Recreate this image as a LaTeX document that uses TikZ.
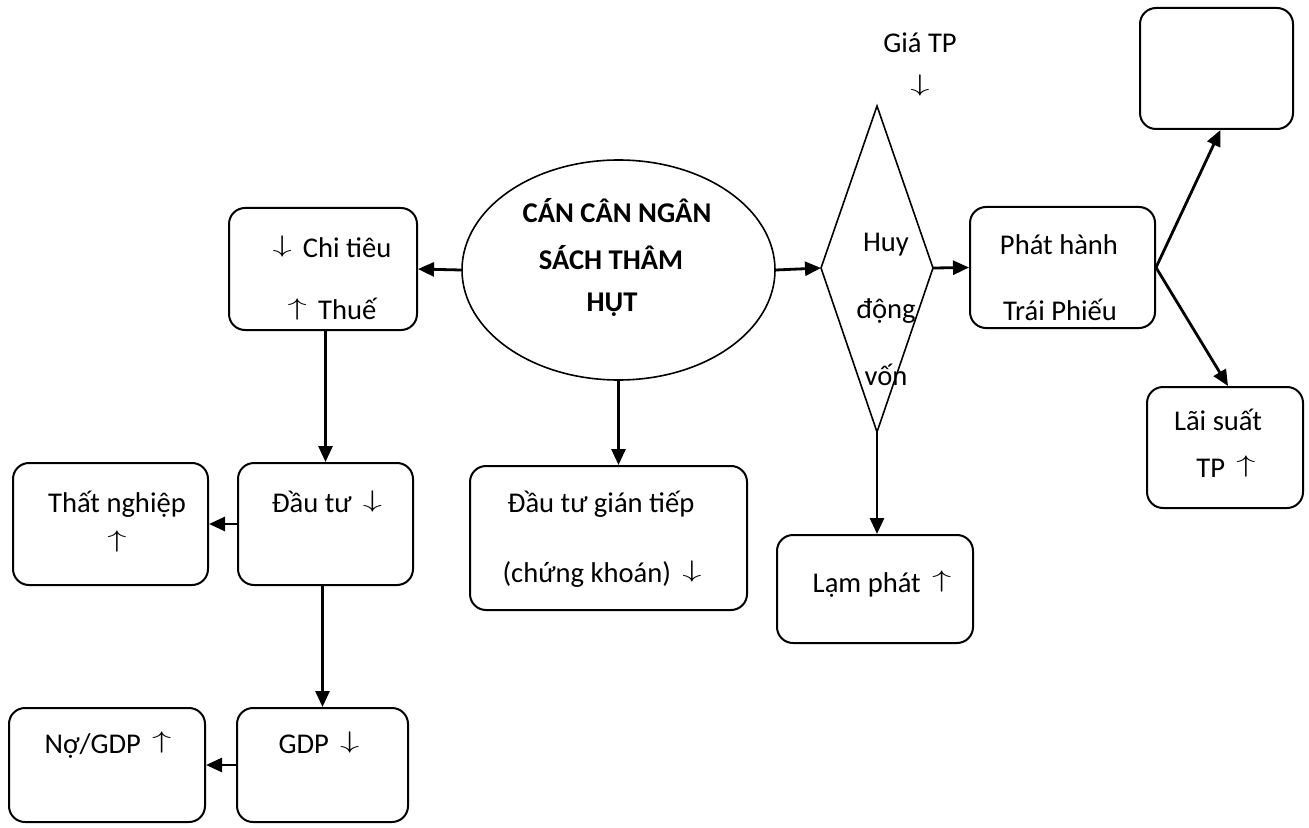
\documentclass[tikz,border=0pt]{standalone}
\usepackage{fontspec}
\usepackage{graphicx}
\setmainfont{Carlito}
\usetikzlibrary{shapes.geometric,arrows.meta,fit}
\newcommand\uarr{\raisebox{2.2pt}{\scalebox{1.6}[1]{\fontsize{11.5}{13}\selectfont$\uparrow$}}}
\newcommand\darr{\raisebox{2.2pt}{\scalebox{1.6}[1]{\fontsize{11.5}{13}\selectfont$\downarrow$}}}
\tikzset{
  box/.style={draw, line width=1pt, rounded corners=8pt, inner sep=0pt},
  txt/.style={inner sep=0pt, anchor=base, font=\fontsize{14.3}{17}\selectfont},
  btxt/.style={txt, font=\fontsize{14.3}{17}\selectfont\bfseries},
  conn/.style={line width=1.4pt, -{Triangle[length=8pt,width=7pt]}},
}
\begin{document}
\begin{tikzpicture}[x=0.5pt,y=-0.5pt]
\useasboundingbox (0,0) rectangle (1309,828);
% boxes
\node[box, fit={(229,208) (417,330)}] (chi) {};
\node[box, fit={(470,466) (747,610)}] (gt) {};
\node[box, fit={(777,535) (973,643)}] (lp) {};
\node[box, fit={(970,207) (1155,328)}] (ph) {};
\node[box, fit={(1140,8) (1293,129)}] (tr) {};
\node[box, fit={(1147,387) (1303,508)}] (ls) {};
\node[box, fit={(13,463) (208,585)}] (tn) {};
\node[box, fit={(238,463) (413,585)}] (dt) {};
\node[box, fit={(9,708) (205,822)}] (no) {};
\node[box, fit={(237,708) (408,822)}] (gdp) {};
% ellipse
\node[draw, ellipse, line width=0.8pt, inner sep=0pt, minimum width=156.5pt, minimum height=110pt] (ell) at (618.5,270) {};
% diamond
\coordinate (dT) at (877,106);
\coordinate (dR) at (933,268);
\coordinate (dB) at (877,432);
\coordinate (dL) at (821,268);
\draw[line width=0.8pt] (dT) -- (dR) -- (dB) -- (dL) -- cycle;
% texts
\node[txt] (t1) at (332,257) {\darr{}\, Chi tiêu};
\node[txt] (t2) at (332,320) {\uarr{}\, Thuế};
\node[btxt] (e1) at (617,223) {CÁN CÂN NGÂN};
\node[btxt] (e2) at (611,270) {SÁCH THÂM};
\node[btxt] (e3) at (612,312) {HỤT};
\node[txt] (g1) at (601,512) {Đầu tư gián tiếp};
\node[txt] (g2) at (602,582) {(chứng khoán)\, \darr};
\node[txt] (h1) at (886,252) {Huy};
\node[txt] (h2) at (886,318) {động};
\node[txt] (h3) at (886,385) {vốn};
\node[txt] (gia) at (920,53) {Giá TP};
\node[txt] (giaa) at (920,96) {\darr};
\node[txt] (p1) at (1059,255) {Phát hành};
\node[txt] (p2) at (1060,321) {Trái Phiếu};
\node[txt] (lpt) at (882,592) {Lạm phát\, \uarr};
\node[txt] (l1) at (1218,430) {Lãi suất};
\node[txt] (l2) at (1226,477) {TP\, \uarr};
\node[txt] (n1) at (117,512) {Thất nghiệp};
\node[txt] (n2) at (117,552) {\uarr};
\node[txt] (d1) at (327,512) {Đầu tư\, \darr};
\node[txt] (o1) at (108,753) {Nợ/GDP\, \uarr};
\node[txt] (o2) at (319,753) {GDP\, \darr};
% connectors
\draw[conn] (ell.west) -- (chi.east);
\draw[conn] (ell.south) -- (ell.south |- gt.north);
\draw[conn] (ell.east) -- (dL);
\draw[conn] (dR) -- (ph.west);
\draw[conn] (dB) -- (dB |- lp.north);
\draw[conn] (ph.east) -- ([xshift=2pt]tr.south);
\draw[conn] (ph.east) -- ([xshift=1.5pt]ls.north);
\draw[conn] (dt.north |- chi.south) -- (dt.north);
\draw[conn] (dt.west) -- (tn.east);
\draw[conn] (gdp.north |- dt.south) -- (gdp.north);
\draw[conn] (gdp.west) -- (no.east);
\end{tikzpicture}
\end{document}
